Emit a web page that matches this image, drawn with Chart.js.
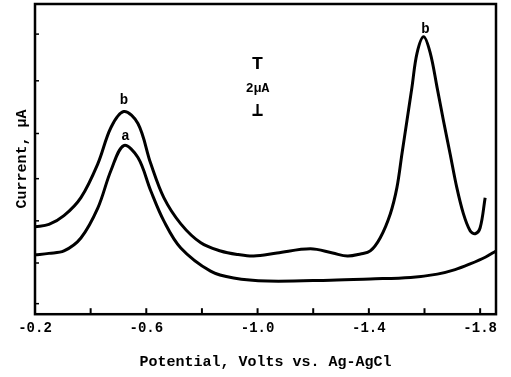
<!DOCTYPE html>
<html><head><meta charset="utf-8">
<script src="https://cdn.jsdelivr.net/npm/chart.js@4/dist/chart.umd.min.js"></script>
<style>html,body{margin:0;padding:0;background:#fff;}canvas{display:block;}</style>
</head><body>
<canvas id="c" width="511" height="377"></canvas>
<script>
// Curve b (upper)
const potentialB = [-0.200,-0.250,-0.304,-0.365,-0.426,-0.473,-0.519,-0.570,-0.616,-0.663,-0.724,-0.796,-0.867,-0.930,-0.986,-1.070,-1.190,-1.270,-1.323,-1.370,-1.405,-1.441,-1.477,-1.501,-1.519,-1.537,-1.555,-1.573,-1.597,-1.621,-1.645,-1.668,-1.692,-1.716,-1.740,-1.764,-1.782,-1.800,-1.818];
const currentB   = [2.90,2.98,3.27,3.87,5.00,6.20,6.73,6.33,5.00,3.87,3.00,2.37,2.10,1.98,1.93,2.03,2.17,2.03,1.93,2.00,2.10,2.54,3.33,4.21,5.33,6.43,7.54,8.66,9.21,8.66,7.54,6.43,5.33,4.21,3.33,2.77,2.67,2.87,3.87];
// Curve a (lower)
const potentialA = [-0.200,-0.250,-0.304,-0.365,-0.426,-0.473,-0.519,-0.570,-0.616,-0.663,-0.724,-0.831,-0.914,-1.036,-1.262,-1.405,-1.550,-1.646,-1.710,-1.764,-1.820,-1.857];
const currentA   = [1.97,2.02,2.10,2.53,3.53,4.77,5.60,5.20,4.10,3.10,2.20,1.43,1.20,1.10,1.13,1.17,1.22,1.33,1.48,1.67,1.90,2.10];

const xTickValues  = [-0.2,-0.4,-0.6,-0.8,-1.0,-1.2,-1.4,-1.6,-1.8];
const xLabelValues = [-0.2,-0.6,-1.0,-1.4,-1.8];
const yTickValues  = [0.35,1.7,3.1,4.5,6.0,7.75,9.3];

const curveLabels = [
  {text:'b', x:-0.52, y:7.1},
  {text:'a', x:-0.525, y:5.9},
  {text:'b', x:-1.603, y:9.45}
];
const scaleBarText = ['T','2\u00b5A','\u22a5'];
const scaleBarPos  = [{x:-1.0,y:8.3},{x:-1.0,y:7.5},{x:-1.0,y:6.75}];

const pts = (xs, ys) => xs.map((x,i)=>({x:x, y:ys[i]}));
const MONO = "'Liberation Mono', 'DejaVu Sans Mono', monospace";

const framePlugin = {
  id:'frame',
  afterDatasetsDraw(chart){
    const {ctx, chartArea:a, scales:{x, y}} = chart;
    ctx.save();
    ctx.strokeStyle = '#000';
    ctx.lineWidth = 2.5;
    ctx.strokeRect(a.left, a.top, a.right-a.left, a.bottom-a.top);
    ctx.lineWidth = 2;
    xTickValues.forEach(v=>{
      const px = x.getPixelForValue(v);
      ctx.beginPath(); ctx.moveTo(px, a.bottom); ctx.lineTo(px, a.bottom-6); ctx.stroke();
    });
    ctx.lineWidth = 1.5;
    yTickValues.forEach(v=>{
      const py = y.getPixelForValue(v);
      ctx.beginPath(); ctx.moveTo(a.left, py); ctx.lineTo(a.left+4, py); ctx.stroke();
    });
    ctx.fillStyle = '#000';
    ctx.textAlign = 'center';
    ctx.textBaseline = 'middle';
    ctx.font = "bold 14px " + MONO;
    curveLabels.forEach(l=>{
      ctx.fillText(l.text, x.getPixelForValue(l.x), y.getPixelForValue(l.y));
    });
    scaleBarText.forEach((t,i)=>{
      ctx.font = (i===1 ? "bold 13px " : "bold 19px ") + MONO;
      ctx.fillText(t, x.getPixelForValue(scaleBarPos[i].x), y.getPixelForValue(scaleBarPos[i].y));
    });
    ctx.restore();
  }
};

new Chart(document.getElementById('c'), {
  type:'scatter',
  data:{datasets:[
    {data:pts(potentialB,currentB), showLine:true, borderColor:'#000', borderWidth:3, pointRadius:0, tension:0.35, fill:false},
    {data:pts(potentialA,currentA), showLine:true, borderColor:'#000', borderWidth:3, pointRadius:0, tension:0.35, fill:false}
  ]},
  options:{
    responsive:false, animation:false, devicePixelRatio:1,
    layout:{padding:{left:13, right:15, top:4, bottom:6}},
    plugins:{legend:{display:false}, tooltip:{enabled:false}},
    scales:{
      x:{type:'linear', reverse:true, min:-1.857, max:-0.2,
        afterBuildTicks:s=>{ s.ticks = xTickValues.map(v=>({value:v})); },
        ticks:{autoSkip:false, maxRotation:0, padding:6, color:'#000',
          font:{family:MONO, weight:'bold', size:14},
          callback:v=> xLabelValues.some(l=>Math.abs(l-v)<1e-6) ? v.toFixed(1) : ''},
        grid:{display:false, drawTicks:false}, border:{display:false},
        title:{display:true, text:'Potential, Volts vs. Ag-AgCl', color:'#000',
          font:{family:MONO, weight:'bold', size:15}, padding:{top:10, bottom:0}}
      },
      y:{type:'linear', min:0, max:10.3,
        ticks:{display:false}, grid:{display:false, drawTicks:false}, border:{display:false},
        title:{display:true, text:'Current, \u00b5A', color:'#000',
          font:{family:MONO, weight:'bold', size:15}, padding:{top:0, bottom:4}}
      }
    }
  },
  plugins:[framePlugin]
});
</script>
</body></html>
